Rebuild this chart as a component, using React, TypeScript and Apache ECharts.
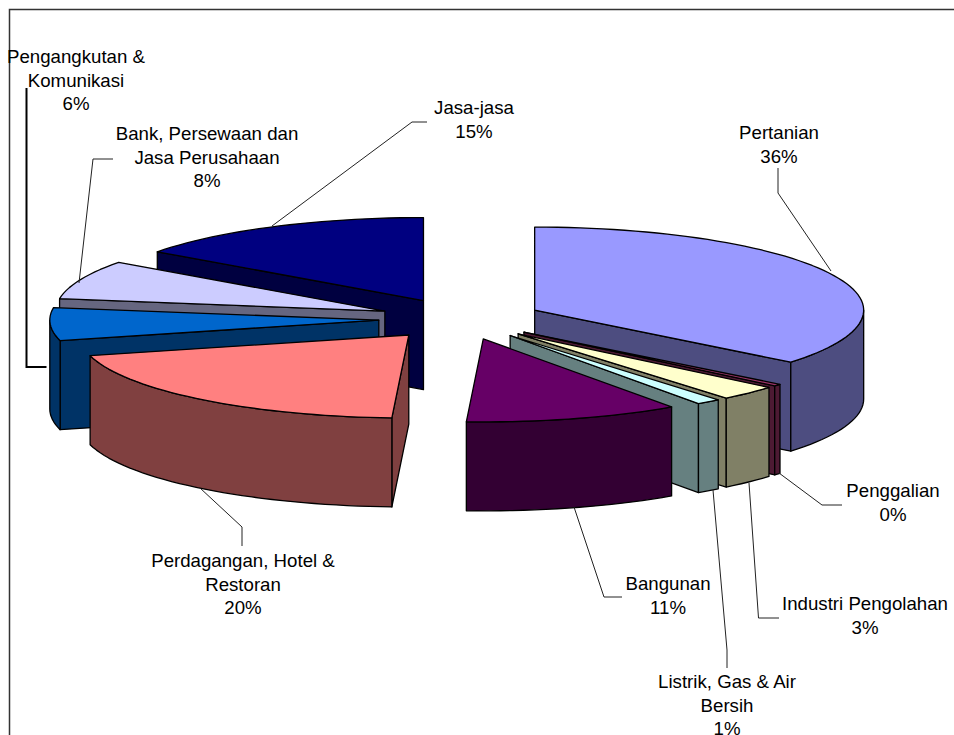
import React, { useEffect, useRef } from "react";
import * as echarts from "echarts";

// PDRB share by sector, clockwise from twelve o'clock.
const sectors = [
  "Pertanian",
  "Penggalian",
  "Industri Pengolahan",
  "Listrik, Gas & Air Bersih",
  "Bangunan",
  "Perdagangan, Hotel & Restoran",
  "Pengangkutan & Komunikasi",
  "Bank, Persewaan dan Jasa Perusahaan",
  "Jasa-jasa",
];
const shares = [35.8, 0.4, 2.9, 1.2, 10.52, 20.18, 6.4, 7.6, 15];

// Wrapped label lines above the percentage.
const labelLines = [
  ["Pertanian"],
  ["Penggalian"],
  ["Industri Pengolahan"],
  ["Listrik, Gas & Air", "Bersih"],
  ["Bangunan"],
  ["Perdagangan, Hotel &", "Restoran"],
  ["Pengangkutan &", "Komunikasi"],
  ["Bank, Persewaan dan", "Jasa Perusahaan"],
  ["Jasa-jasa"],
];

const topColors = ["#9999FF", "#993366", "#FFFFCC", "#CCFFFF", "#660066", "#FF8080", "#0066CC", "#CCCCFF", "#000080"];
const sideColors = ["#4D4D80", "#4D1A33", "#808066", "#668080", "#330033", "#804040", "#003366", "#666680", "#000040"];

// Painter's order: back slices first, front slices last.
const drawOrder = [8, 0, 1, 2, 3, 4, 7, 6, 5];

// Projection of the tilted pie.
const PIE = { cx: 460.7, cy: 319, rx: 329, ry: 83, depth: 89, explode: 82 };

// Label anchors: centre x and top y of the first text line.
const labelAnchors = [
  [779, 123],
  [893, 481],
  [865, 594],
  [727, 672],
  [668, 574],
  [243, 551],
  [76, 47],
  [207, 124],
  [474, 98],
];

// Leader lines from each slice to its label.
const leaders = [
  [[831, 271], [778, 193], [778, 168]],
  [[779, 473], [822, 505], [842, 505]],
  [[749, 483], [758.5, 618], [779, 618]],
  [[713, 490], [727, 650], [727, 668]],
  [[574, 507], [604, 597], [622, 597]],
  [[200, 488], [242, 527], [242, 546]],
  [[26.5, 88], [26.5, 367], [46.5, 367]],
  [[79, 283], [93, 159], [113, 159]],
  [[272, 226], [412, 122], [427, 122]],
];

const total = shares.reduce((a, b) => a + b, 0);
const startShare = shares.map((_, i) => shares.slice(0, i).reduce((a, b) => a + b, 0));
const toAngle = (share: number) => (share / total) * Math.PI * 2;

function renderSlice(_params: any, api: any) {
  const index = api.value(0) as number;
  const from = toAngle(startShare[index]);
  const to = from + toAngle(api.value(1) as number);
  const mid = (from + to) / 2;
  const apex: [number, number] = [
    PIE.cx + PIE.explode * Math.sin(mid),
    PIE.cy - PIE.explode * (PIE.ry / PIE.rx) * Math.cos(mid),
  ];
  const rim = (a: number): [number, number] => [
    apex[0] + PIE.rx * Math.sin(a),
    apex[1] - PIE.ry * Math.cos(a),
  ];
  const drop = (p: [number, number]): [number, number] => [p[0], p[1] + PIE.depth];
  const arc = (a: number, b: number) => {
    const steps = Math.max(2, Math.ceil(((b - a) / Math.PI) * 90));
    return Array.from({ length: steps + 1 }, (_, k) => rim(a + ((b - a) * k) / steps));
  };
  const edge = { stroke: "#000", lineWidth: 1.3, lineJoin: "round" };
  const children: any[] = [];
  const face = (points: [number, number][], fill: string) =>
    children.push({ type: "polygon", shape: { points }, style: { fill, ...edge } });

  // Cut faces turned towards the viewer.
  if (Math.sin(from) < -1e-6) {
    face([apex, rim(from), drop(rim(from)), drop(apex)], sideColors[index]);
  }
  if (Math.sin(to) > 1e-6) {
    face([apex, rim(to), drop(rim(to)), drop(apex)], sideColors[index]);
  }
  // Outer wall on the near half of the ellipse.
  const wallFrom = Math.max(from, Math.PI / 2);
  const wallTo = Math.min(to, (Math.PI * 3) / 2);
  if (wallTo > wallFrom) {
    const upper = arc(wallFrom, wallTo);
    face([...upper, ...upper.slice().reverse().map(drop)], sideColors[index]);
  }
  // Top surface.
  face([apex, ...arc(from, to)], topColors[index]);
  return { type: "group", children };
}

const LINE_HEIGHT = 23.6;
const labelGraphics = sectors.flatMap((_, i) => {
  const pct = `${Math.round((shares[i] / total) * 100)}%`;
  return [...labelLines[i], pct].map((line, k) => ({
    type: "text",
    x: labelAnchors[i][0],
    y: labelAnchors[i][1] + k * LINE_HEIGHT,
    z: 10,
    style: {
      text: line,
      fill: "#000",
      font: '18.67px "Liberation Sans", Arial, sans-serif',
      align: "center",
      verticalAlign: "top",
    },
  }));
});

const leaderGraphics = leaders.map((points, i) => ({
  type: "polyline",
  z: 9,
  shape: { points },
  style: { fill: "none", stroke: i === 6 ? "#000" : "#222", lineWidth: i === 6 ? 2 : 1 },
}));

const frameGraphic = {
  type: "polyline",
  z: 8,
  shape: { points: [[9.5, 735], [9.5, 9.5], [954, 9.5]] },
  style: { fill: "none", stroke: "#333", lineWidth: 1.5 },
};

export default function App() {
  const ref = useRef<HTMLDivElement>(null);
  useEffect(() => {
    if (!ref.current) return;
    const chart = echarts.init(ref.current, undefined, { renderer: "svg" });
    chart.setOption({
      animation: false,
      backgroundColor: "#fff",
      graphic: { elements: [frameGraphic, ...leaderGraphics, ...labelGraphics] },
      series: [
        {
          type: "custom",
          coordinateSystem: "none",
          silent: true,
          renderItem: renderSlice,
          data: drawOrder.map((i) => [i, shares[i], sectors[i]]),
        },
      ],
    });
    return () => chart.dispose();
  }, []);
  return <div ref={ref} style={{ position: "absolute", left: 0, top: 0, width: 954, height: 735 }} />;
}
